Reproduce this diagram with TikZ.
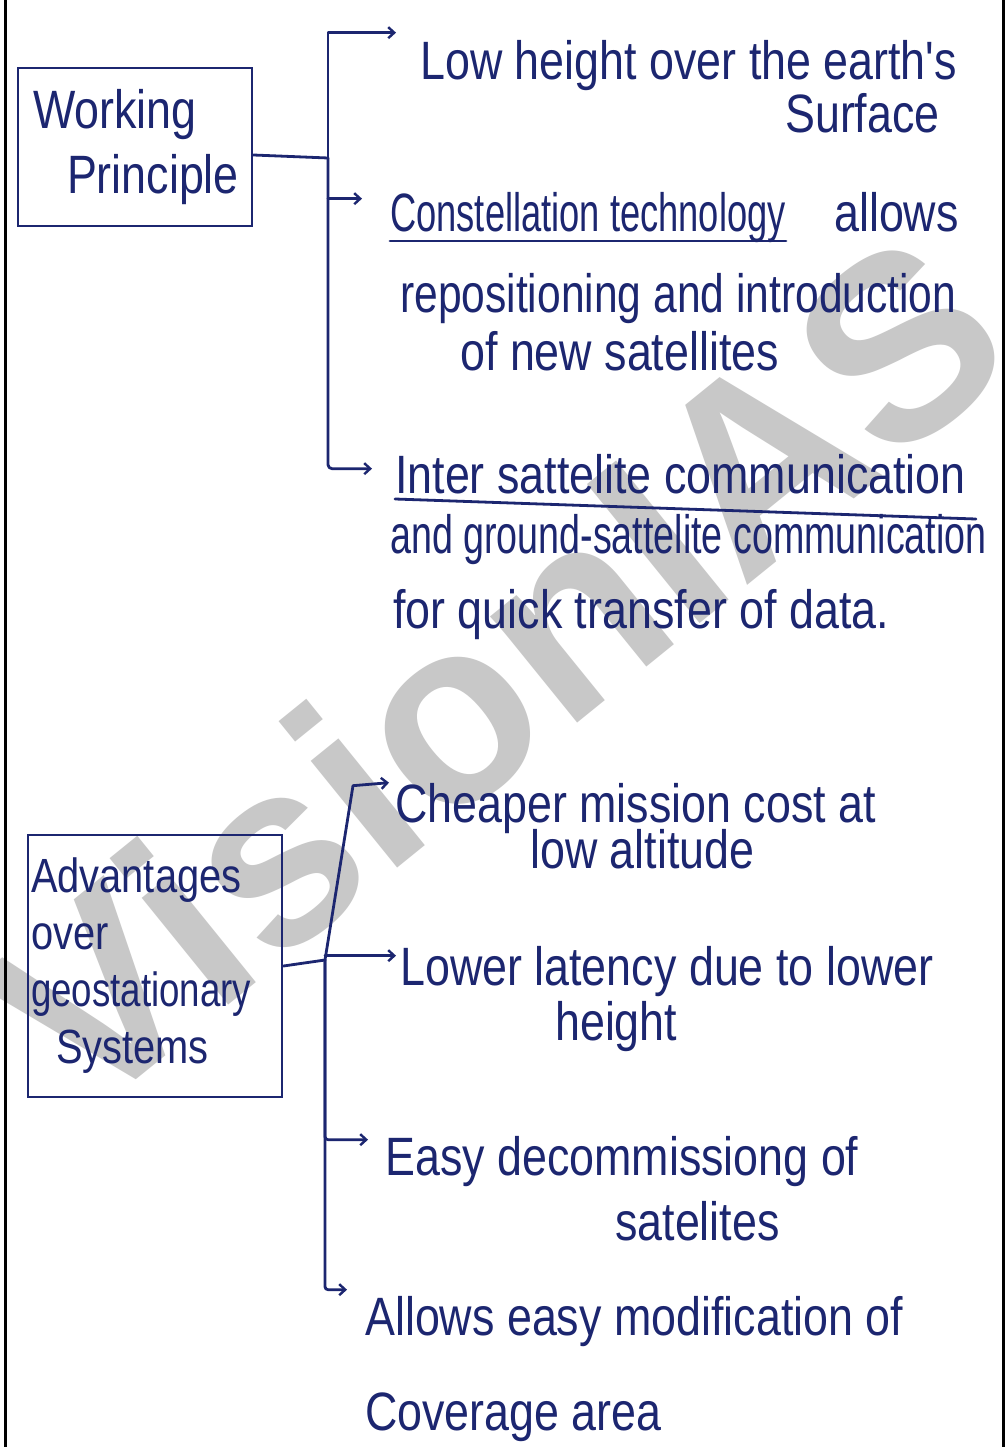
\documentclass[tikz,border=0pt]{standalone}
\usepackage{fontspec}
\usepackage{graphicx}
\setmainfont{Liberation Sans}
\newfontfamily\hand[FakeStretch=0.83]{Liberation Sans}
\usetikzlibrary{arrows.meta,calc}
\definecolor{inkc}{RGB}{28,38,112}
\definecolor{wmark}{RGB}{200,200,200}
\newcommand\hsq[2]{\scalebox{#1}[1]{#2}}
\begin{document}
\begin{tikzpicture}[x=1pt,y=-1pt,
  ink/.style={draw=inkc, line width=2.8pt, line cap=round, line join=round},
  arr/.style={ink, -{Straight Barb[length=6pt,width=11pt,line width=2.4pt]}},
  txt/.style={anchor=base west, inner sep=0pt, text=inkc, font={\hand\fontsize{54}{65}\selectfont}},
  box/.style={draw=inkc, line width=2.8pt, rectangle, text=inkc, align=left, inner ysep=0pt},
]
\useasboundingbox (0,0) rectangle (1007,1447);
\fill[white] (0,0) rectangle (1007,1447);
% watermark
\node[rotate=39, text=wmark, font={\bfseries\fontsize{260}{260}\selectfont}, inner sep=0pt] (wm) at (495,670) {VisionIAS};
% page border
\draw[line width=3pt] (5,0) -- (5,1447);
\draw[line width=3pt] (1003,0) -- (1003,1447);

% boxes
\node[box, text width=222pt, inner xsep=6pt, minimum height=158pt,
      font={\hand\fontsize{54}{65}\selectfont}] (wp) at (135,147)
      {\hspace*{9pt}Working\\\hspace*{43pt}Principle};
\node[box, text width=248pt, inner xsep=3pt, minimum height=262pt,
      font={\hand\fontsize{48}{57}\selectfont}] (adv) at (155,966)
      {Advantages\\over\\\hsq{0.92}{geostationary}\\\hspace*{25pt}Systems};

% texts, group 1
\node[txt] (low1) at (420,80) {Low height over the earth's};
\node[txt] (low2) at (785,133) {Surface};
\node[txt] (con1) at (390,232) {\hsq{0.81}{Constellation technology}};
\node[txt] (con1b) at ([xshift=48pt]con1.base east) {allows};
\node[txt] (con2) at (400,312) {\hsq{0.95}{repositioning and introduction}};
\node[txt] (con3) at (460,370) {of new satellites};
\node[txt] (int1) at (395,493) {Inter sattelite communication};
\node[txt] (int2) at (390,553) {\hsq{0.84}{and ground-sattelite communication}};
\node[txt] (int3) at (393,628) {for quick transfer of data.};

% texts, group 2
\node[txt] (che1) at (395,822) {Cheaper mission cost at};
\node[txt] (che2) at (530,868) {low altitude};
\node[txt] (lo1) at (400,985) {Lower latency due to lower};
\node[txt] (lo2) at (555,1040) {height};
\node[txt] (ea1) at (385,1175) {Easy decommissiong of};
\node[txt] (ea2) at (615,1240) {satelites};
\node[txt] (al1) at (365,1335) {Allows easy modification of};
\node[txt] (al2) at (365,1430) {Coverage area};

% underlines
\draw[ink] ([yshift=-9pt]con1.base west) -- ([yshift=-9pt]con1.base east);
\draw[ink] ([yshift=-6pt]int1.base west) -- ([xshift=10pt,yshift=-26pt]int1.base east);

% tree 1
\coordinate (j1) at (328,158);
\draw[ink] ([yshift=-8pt]wp.east) -- (j1);
\coordinate (a1) at ([xshift=-24pt,yshift=8pt]low1.north west);
\draw[arr] (j1) |- (a1);
\coordinate (a2) at ([xshift=-28pt,yshift=-6pt]con1.north west);
\draw[arr] (a2 -| j1) -- (a2);
\coordinate (a3) at ([xshift=-23pt,yshift=-15pt]int1.north west);
\draw[arr, rounded corners=4pt] (j1) |- (a3);

% tree 2
\coordinate (j2) at (325,960);
\draw[ink] (adv.east) -- (j2);
\coordinate (a4) at ([xshift=-6pt]che1.north west);
\draw[arr] (j2) -- ([xshift=-36pt,yshift=-3pt]a4) -- (a4);
\coordinate (a5) at ([xshift=-4pt,yshift=-10pt]lo1.north west);
\draw[arr] (a5 -| j2) -- (a5);
\coordinate (a6) at ([xshift=-17pt,yshift=-4pt]ea1.north west);
\draw[arr, rounded corners=3pt] (j2) |- (a6);
\coordinate (a7) at ([xshift=-18pt,yshift=6pt]al1.north west);
\draw[arr, rounded corners=3pt] (j2) |- (a7);
\end{tikzpicture}
\end{document}
